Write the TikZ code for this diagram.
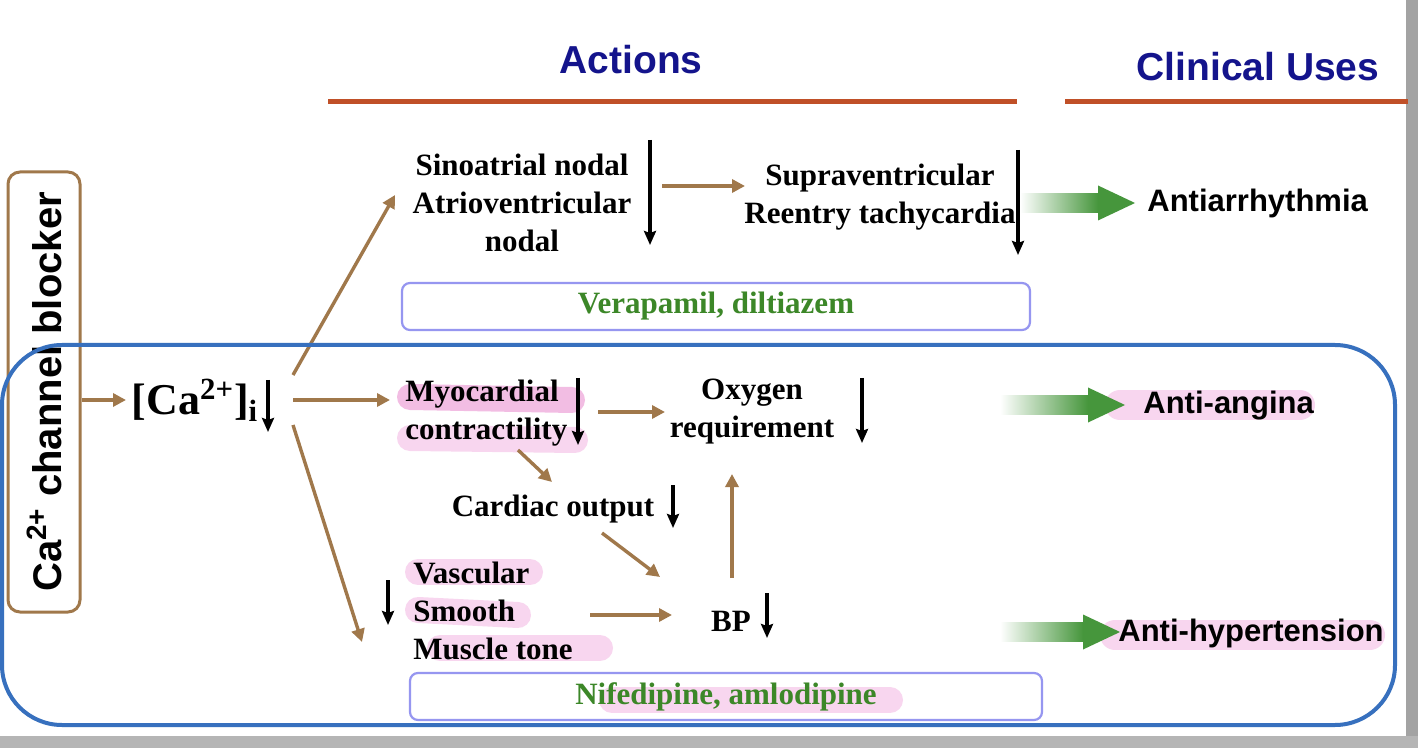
\documentclass[tikz,border=0pt]{standalone}
\usepackage{fontspec}
\setmainfont{Liberation Serif}
\newfontfamily\sansb{Liberation Sans}
\usetikzlibrary{arrows.meta,calc}
\definecolor{brownA}{RGB}{160,120,75}
\definecolor{navy}{RGB}{20,20,140}
\definecolor{rust}{RGB}{192,80,40}
\definecolor{blueB}{RGB}{55,112,190}
\definecolor{lav}{RGB}{150,150,240}
\definecolor{gtext}{RGB}{60,135,40}
\definecolor{garrow}{RGB}{70,150,60}
\definecolor{pinkH}{RGB}{240,165,220}
\definecolor{pinkD}{RGB}{228,110,195}
\newcommand\GreenArrow[4]{%
  \shade[left color=white,right color=garrow] (#1,#3-9.5) rectangle (#2-37,#3+9.5);
  \fill[garrow] (#2-37,#3-17.5) -- (#2,#3) -- (#2-37,#3+17.5) -- cycle;
  \coordinate (#4) at (#2,#3);}
\begin{document}
\begin{tikzpicture}[x=0.5pt,y=-0.5pt,
  txt/.style={font=\fontsize{15.5}{19}\selectfont\bfseries, inner sep=0pt, align=center},
  use/.style={font=\sansb\fontsize{15.5}{18}\selectfont\bfseries, inner sep=0pt, anchor=west},
  headt/.style={font=\sansb\fontsize{19.5}{22}\selectfont\bfseries, text=navy, inner sep=0pt},
  barr/.style={-{Triangle[length=6.5pt,width=6.5pt]}, line width=1.7pt, draw=brownA},
  down/.style={-{Stealth[length=7pt,width=6pt,inset=1pt]}, line width=1.7pt, black},
  drugbox/.style={draw=lav, line width=1.1pt, rounded corners=4pt, text=gtext,
    font=\fontsize{15.5}{18}\selectfont\bfseries},
  hl/.style={pinkH, opacity=0.45, line cap=round, line width=13pt}]
\useasboundingbox (0,0) rectangle (1418,748);
\fill[white] (0,0) rectangle (1418,748);
% screenshot edges
\fill[gray!72] (1406,0) rectangle (1418,748);
\fill[gray!58] (0,736) rectangle (1418,748);

% highlights
\draw[hl, pinkD] (410,397) -- (572,400);
\draw[hl] (410,438) -- (575,440);
\draw[hl] (418,572) -- (530,572);
\draw[hl] (418,610) -- (518,615);
\draw[hl] (440,648) -- (600,648);
\draw[hl] (612,700) -- (890,700);
\draw[hl, line width=15pt] (1120,405) -- (1300,405);
\draw[hl, line width=15pt] (1115,635) -- (1370,635);

% headings
\node[headt] (act) at (631,60) {Actions};
\node[headt] (cu) at (1258,67) {Clinical Uses};
\draw[rust, line width=2.5pt] (328,102) -- (1017,102);
\draw[rust, line width=2.5pt] (1065,102) -- (1408,102);

% drug boxes
\node[drugbox, minimum width=314pt, minimum height=23.5pt] (vd) at (716,306.5) {Verapamil, diltiazem};
\node[drugbox, minimum width=316pt, minimum height=23.5pt] (na) at (726,696.5) {Nifedipine, amlodipine};

% channel blocker
\node[draw=brownA, line width=1.5pt, rounded corners=6pt, rotate=90,
      minimum width=220pt, minimum height=36pt, inner sep=0pt,
      font=\sansb\fontsize{20}{22}\selectfont\bfseries] (cb) at (44,392)
      {Ca\textsuperscript{2+} channel blocker};
\node[font=\fontsize{22}{24}\selectfont\bfseries, inner sep=0pt] (ca) at (195,400)
      {[Ca\textsuperscript{2+}]\textsubscript{i}};

% action texts
\node[txt] (sa) at (522,203) {Sinoatrial nodal\\Atrioventricular\\nodal};
\node[txt] (sv) at (880,197) {Supraventricular\\Reentry tachycardia};
\node[txt, align=left, anchor=west] (mc) at (405,413) {Myocardial\\contractility};
\node[txt] (ox) at (752,412) {Oxygen\\requirement};
\node[txt] (co) at (553,509) {Cardiac output};
\node[txt, align=left, anchor=west] (vs) at (413,611) {Vascular\\Smooth\\Muscle tone};
\node[txt] (bp) at (731,621) {BP};

% clinical uses
\node[use] (aa) at (1147,203) {Antiarrhythmia};
\node[use] (ag) at (1143,406) {Anti-angina};
\node[use] (ah) at (1118,633) {Anti-hypertension};

% green arrows
\GreenArrow{1020}{1135}{203}{g1}
\GreenArrow{1000}{1125}{405}{g2}
\GreenArrow{1000}{1120}{632}{g3}

% brown connectors
\coordinate (c0) at (82,400);   \coordinate (c0e) at (126,400);
\draw[barr] (c0) -- (c0e);
\coordinate (o1) at (293,375);  \coordinate (e1) at (395,195);
\coordinate (o2) at (293,400);  \coordinate (e2) at (390,400);
\coordinate (o3) at (293,425);  \coordinate (e3) at (362,642);
\draw[barr] (o1) -- (e1);
\draw[barr] (o2) -- (e2);
\draw[barr] (o3) -- (e3);
\coordinate (s4) at (662,186);  \coordinate (e4) at (745,186);
\draw[barr] (s4) -- (e4);
\coordinate (s5) at (598,412);  \coordinate (e5) at (665,412);
\draw[barr] (s5) -- (e5);
\coordinate (s6) at (518,450);  \coordinate (e6) at (552,482);
\draw[barr] (s6) -- (e6);
\coordinate (s7) at (602,533);  \coordinate (e7) at (660,577);
\draw[barr] (s7) -- (e7);
\coordinate (s8) at (732,578);  \coordinate (e8) at (732,474);
\draw[barr] (s8) -- (e8);
\coordinate (s9) at (590,615);  \coordinate (e9) at (672,615);
\draw[barr] (s9) -- (e9);

% black down arrows
\foreach \x/\ya/\yb in {650/140/245, 1018/150/255, 268/380/432, 578/378/445,
  862/378/443, 673/485/528, 388/580/625, 767/593/638}
  \draw[down] (\x,\ya) -- (\x,\yb);

% blue frame
\draw[blueB, line width=2pt, rounded corners=30pt] (2,345) rectangle (1395,725);
\end{tikzpicture}
\end{document}
